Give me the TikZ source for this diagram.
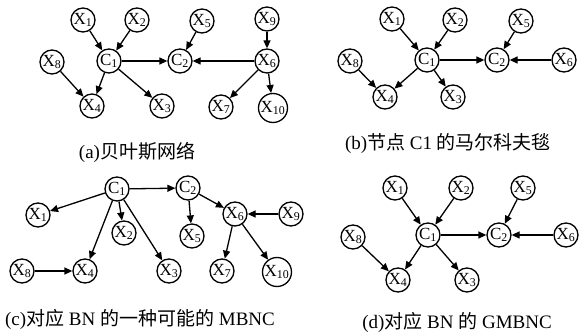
\documentclass[tikz,border=0pt]{standalone}
\usepackage{fontspec}
\setmainfont{Liberation Serif}
\newfontfamily\cjk{Noto Sans CJK SC}
\usetikzlibrary{arrows.meta}
\begin{document}
\begin{tikzpicture}[x=1pt,y=-1pt,
  nd/.style={circle,draw,line width=1.3pt,minimum size=24pt,inner sep=0pt,font=\fontsize{17}{17}\selectfont},
  big/.style={minimum size=29pt},
  ar/.style={line width=1.3pt,-{Triangle[length=8pt,width=7pt]}},
  captext/.style={font=\fontsize{19}{19}\selectfont,inner sep=0pt}]
\useasboundingbox (0,0) rectangle (579,334);
% ---------- (a)
\node[nd] (a1) at (83,20) {X\textsubscript{1}};
\node[nd] (a2) at (137,20) {X\textsubscript{2}};
\node[nd] (a5) at (202,21) {X\textsubscript{5}};
\node[nd] (a9) at (267,19) {X\textsubscript{9}};
\node[nd] (a8) at (52,62) {X\textsubscript{8}};
\node[nd] (ac1) at (109,61) {C\textsubscript{1}};
\node[nd] (ac2) at (180,61) {C\textsubscript{2}};
\node[nd] (a6) at (267,61) {X\textsubscript{6}};
\node[nd] (a4) at (92,106) {X\textsubscript{4}};
\node[nd] (a3) at (162,106) {X\textsubscript{3}};
\node[nd] (a7) at (221,107) {X\textsubscript{7}};
\node[nd,big] (a10) at (273,108) {X\textsubscript{10}};
\draw[ar] (a1) -- (ac1);
\draw[ar] (a2) -- (ac1);
\draw[ar] (a5) -- (ac2);
\draw[ar] (a9) -- (a6);
\draw[ar] (ac1) -- (ac2);
\draw[ar] (a6) -- (ac2);
\draw[ar] (ac1) -- (a4);
\draw[ar] (a8) -- (a4);
\draw[ar] (ac1) -- (a3);
\draw[ar] (a6) -- (a7);
\draw[ar] (a6) -- (a10);
\node[captext] (capa) at (137,152) {(a){\cjk 贝叶斯网络}};
% ---------- (b)
\node[nd] (b1) at (392,19) {X\textsubscript{1}};
\node[nd] (b2) at (455,20) {X\textsubscript{2}};
\node[nd] (b5) at (521,21) {X\textsubscript{5}};
\node[nd] (b8) at (350,61) {X\textsubscript{8}};
\node[nd] (bc1) at (427,60) {C\textsubscript{1}};
\node[nd] (bc2) at (497,60) {C\textsubscript{2}};
\node[nd] (b6) at (564,60) {X\textsubscript{6}};
\node[nd] (b4) at (385,97) {X\textsubscript{4}};
\node[nd] (b3) at (453,97) {X\textsubscript{3}};
\draw[ar] (b1) -- (bc1);
\draw[ar] (b2) -- (bc1);
\draw[ar] (bc1) -- (bc2);
\draw[ar] (b5) -- (bc2);
\draw[ar] (b6) -- (bc2);
\draw[ar] (b8) -- (b4);
\draw[ar] (bc1) -- (b4);
\draw[ar] (bc1) -- (b3);
\node[captext] (capb) at (448,144) {(b){\cjk 节点} C1 {\cjk 的马尔科夫毯}};
% ---------- (c)
\node[nd] (cc1) at (117,189) {C\textsubscript{1}};
\node[nd] (cc2) at (188,188) {C\textsubscript{2}};
\node[nd] (c1) at (38,215) {X\textsubscript{1}};
\node[nd] (c2) at (124,233) {X\textsubscript{2}};
\node[nd] (c5) at (192,236) {X\textsubscript{5}};
\node[nd] (c6) at (235,214) {X\textsubscript{6}};
\node[nd] (c9) at (291,214) {X\textsubscript{9}};
\node[nd] (c8) at (22,271) {X\textsubscript{8}};
\node[nd] (c4) at (85,271) {X\textsubscript{4}};
\node[nd] (c3) at (169,271) {X\textsubscript{3}};
\node[nd] (c7) at (222,271) {X\textsubscript{7}};
\node[nd,big] (c10) at (277,272) {X\textsubscript{10}};
\draw[ar] (cc1) -- (cc2);
\draw[ar] (cc1) -- (c1);
\draw[ar] (cc1) -- (c2);
\draw[ar] (cc1) -- (c4);
\draw[ar] (cc1) -- (c3);
\draw[ar] (cc2) -- (c5);
\draw[ar] (cc2) -- (c6);
\draw[ar] (c9) -- (c6);
\draw[ar] (c6) -- (c7);
\draw[ar] (c6) -- (c10);
\draw[ar] (c8) -- (c4);
\node[captext] (capc) at (140,319) {(c){\cjk 对应} BN {\cjk 的一种可能的} MBNC};
% ---------- (d)
\node[nd] (d1) at (395,188) {X\textsubscript{1}};
\node[nd] (d2) at (461,188) {X\textsubscript{2}};
\node[nd] (d5) at (523,188) {X\textsubscript{5}};
\node[nd] (d8) at (353,237) {X\textsubscript{8}};
\node[nd] (dc1) at (428,235) {C\textsubscript{1}};
\node[nd] (dc2) at (499,235) {C\textsubscript{2}};
\node[nd] (d6) at (566,235) {X\textsubscript{6}};
\node[nd] (d4) at (398,280) {X\textsubscript{4}};
\node[nd] (d3) at (467,280) {X\textsubscript{3}};
\draw[ar] (d1) -- (dc1);
\draw[ar] (d2) -- (dc1);
\draw[ar] (dc1) -- (dc2);
\draw[ar] (d5) -- (dc2);
\draw[ar] (d6) -- (dc2);
\draw[ar] (d8) -- (d4);
\draw[ar] (dc1) -- (d4);
\draw[ar] (dc1) -- (d3);
\node[captext] (capd) at (457,322) {(d){\cjk 对应} BN {\cjk 的} GMBNC};
\end{tikzpicture}
\end{document}
